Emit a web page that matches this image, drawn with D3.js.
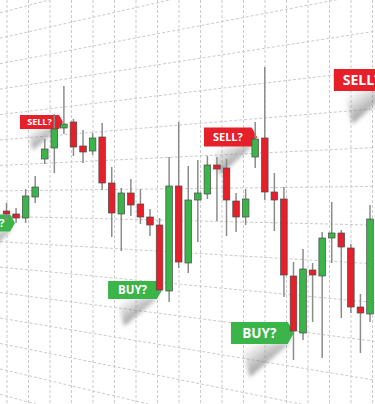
<!DOCTYPE html>
<html><head><meta charset="utf-8">
<script src="https://cdn.jsdelivr.net/npm/d3@7"></script>
<style>html,body{margin:0;padding:0;background:#fff;overflow:hidden}</style>
</head><body><svg id="c" width="375" height="404"></svg>
<script>
// ---- data ----
const candleIndex = d3.range(1, 40);
const open  = [1.1093,1.1090,1.1086,1.1107,1.1145,1.1156,1.1176,1.1182,1.1158,1.1153,
               1.1167,1.1121,1.1090,1.1111,1.1100,1.1087,1.1079,1.1013,1.1118,1.1041,
               1.1104,1.1110,1.1139,1.1136,1.1103,1.1087,1.1147,1.1166,1.1112,1.1105,
               1.1028,1.0971,1.1034,1.1028,1.1066,1.1071,1.1056,1.0997,1.0990];
const high  = [1.1101,1.1096,1.1115,1.1128,1.1165,1.1190,1.1218,1.1185,1.1174,1.1171,
               1.1181,1.1137,1.1116,1.1125,1.1115,1.1095,1.1086,1.1147,1.1182,1.1138,
               1.1144,1.1148,1.1147,1.1145,1.1111,1.1115,1.1182,1.1237,1.1131,1.1117,
               1.1042,1.1055,1.1041,1.1072,1.1102,1.1074,1.1060,1.1010,1.1099];
const low   = [1.1084,1.1081,1.1081,1.1101,1.1140,1.1131,1.1170,1.1148,1.1141,1.1149,
               1.1114,1.1067,1.1053,1.1088,1.1080,1.1068,1.1011,1.1002,1.1036,1.1031,
               1.1062,1.1105,1.1083,1.1068,1.1072,1.1079,1.1136,1.1104,1.1073,1.1007,
               1.0944,1.0964,1.0982,1.0946,1.1041,1.0986,1.0991,1.0951,1.0982];
const close = [1.1090,1.1086,1.1108,1.1117,1.1155,1.1175,1.1180,1.1157,1.1152,1.1166,
               1.1121,1.1091,1.1111,1.1099,1.1087,1.1079,1.1014,1.1118,1.1042,1.1104,
               1.1111,1.1139,1.1135,1.1104,1.1087,1.1105,1.1165,1.1112,1.1104,1.1029,
               1.0973,1.1035,1.1029,1.1066,1.1071,1.1057,1.0997,1.0991,1.1085];

const labelText  = ["BUY?","SELL?","BUY?","SELL?","BUY?","SELL?"];
const labelKind  = ["buy","sell","buy","sell","buy","sell"];
const labelAt    = [1.89, 6.9, 17.26, 27.19, 31.05, 41.7];   // candle position of the tip
const labelPrice = [1.1081, 1.1182, 1.1014, 1.1167, 1.0971, 1.1224];

// ---- layout / style ----
const W = 375, H = 404;
const labelW = [44, 43, 54, 53, 63, 62];
const labelH = [17, 14, 18, 19, 22, 22];
const labelF = [11, 9, 11.5, 11, 13.5, 14];
const RED = "#e5202a", GREEN = "#3bb44a";

const svg = d3.select("#c");
const x = d3.scaleLinear().domain([1, 39]).range([6.5, 370]);
const y = d3.scaleLinear().domain([1.0900, 1.1304]).range([404, 0]);
const bw = 6.6;

const defs = svg.append("defs");
defs.append("filter").attr("id","blur").attr("x","-50%").attr("y","-50%").attr("width","200%").attr("height","200%")
  .append("feGaussianBlur").attr("stdDeviation", 2);
const g = defs.append("linearGradient").attr("id","shg").attr("x1",0).attr("y1",0).attr("x2",1).attr("y2",1);
g.append("stop").attr("offset",0.1).attr("stop-color","#999").attr("stop-opacity",0);
g.append("stop").attr("offset",0.5).attr("stop-color","#777").attr("stop-opacity",0.55);
g.append("stop").attr("offset",0.75).attr("stop-color","#555").attr("stop-opacity",0.85);
g.append("stop").attr("offset",1).attr("stop-color","#555").attr("stop-opacity",0.85);

// ---- perspective grid ----
const grid = svg.append("g").attr("stroke","#cbcbcb").attr("stroke-width",1).attr("stroke-dasharray","3,2").attr("fill","none");
d3.range(0, 18).forEach(j => {
  const gx = 7 + 21.5 * j;
  grid.append("line").attr("x1", gx).attr("x2", gx).attr("y1", 0).attr("y2", H);
});
d3.range(-2, 14).forEach(i => {
  const yl = 58 + 26.5 * i, yr = -7.5 + 38.77 * i;
  const at = xx => yl + (yr - yl) * (xx - 30) / 345;
  grid.append("line").attr("x1", 0).attr("y1", at(0)).attr("x2", W).attr("y2", at(W));
});

// ---- labels ----
const labels = labelText.map((t, i) => {
  const tip = x(labelAt[i]), ty = y(labelPrice[i]);
  const w = labelW[i], h = labelH[i], a = 0.28 * h;
  return {t, kind: labelKind[i], tip, ty, w, h, a, f: labelF[i], x0: tip - w};
});
const shadows = svg.append("g");
labels.forEach(L => {
  const bottom = L.ty + L.h / 2;
  const pts = [[L.tip - 4, bottom - 1], [L.x0 + 0.15 * L.w, bottom - 1], [L.x0 + 0.3 * L.w, bottom + 1.5 * L.h]];
  shadows.append("path").attr("d", "M" + pts.join("L") + "Z")
    .attr("fill","url(#shg)").attr("filter","url(#blur)");
});
const lg = svg.append("g");
labels.forEach(L => {
  const top = L.ty - L.h / 2, bot = L.ty + L.h / 2, re = L.tip - L.a;
  lg.append("path")
    .attr("d", `M${L.x0},${top}L${re},${top}L${L.tip},${L.ty}L${re},${bot}L${L.x0},${bot}Z`)
    .attr("fill", L.kind === "buy" ? GREEN : RED);
  lg.append("text").attr("x", (L.x0 + re) / 2).attr("y", L.ty)
    .attr("dy", "0.36em").attr("text-anchor","middle")
    .attr("font-family","'Open Sans', sans-serif").attr("font-weight", 700)
    .attr("font-size", L.f).attr("fill","#fff").text(L.t);
});

// ---- candles ----
const data = candleIndex.map((d, i) => ({i: d, o: open[i], h: high[i], l: low[i], c: close[i]}));
const cg = svg.append("g");
cg.selectAll("line.wick").data(data).join("line").attr("class","wick")
  .attr("x1", d => x(d.i)).attr("x2", d => x(d.i))
  .attr("y1", d => y(d.h)).attr("y2", d => y(d.l))
  .attr("stroke","#8c8c8c").attr("stroke-width",1.5);
cg.selectAll("rect.body").data(data).join("rect").attr("class","body")
  .attr("x", d => x(d.i) - bw / 2).attr("width", bw)
  .attr("y", d => y(Math.max(d.o, d.c)))
  .attr("height", d => Math.max(2, Math.abs(y(d.o) - y(d.c))))
  .attr("fill", d => d.c >= d.o ? GREEN : RED)
  .attr("stroke","#4a4a4a").attr("stroke-width",0.7);
</script>
</body></html>
